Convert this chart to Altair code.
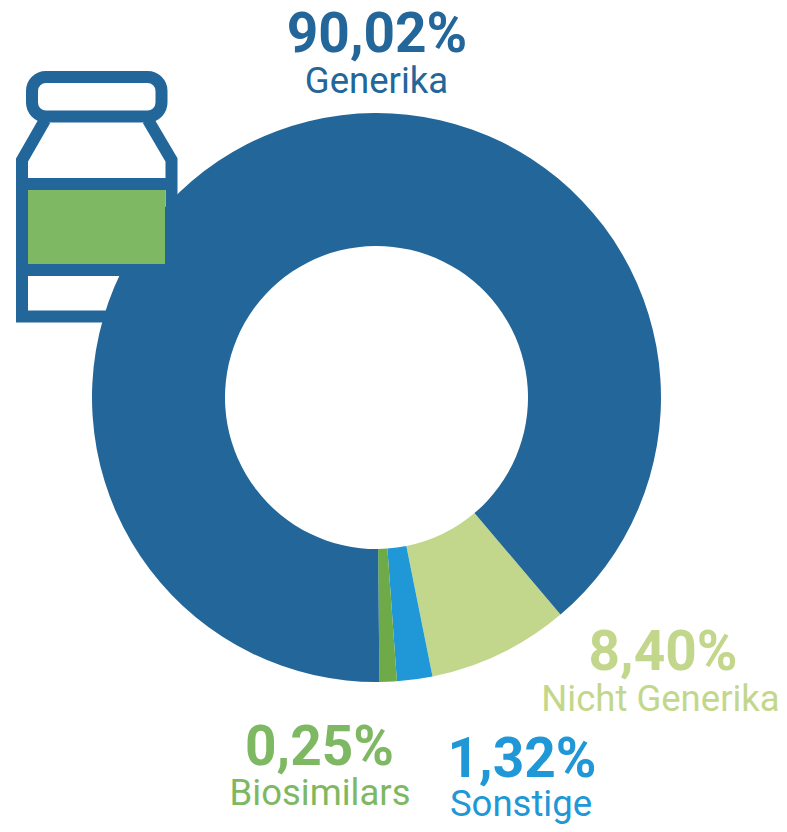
import math
import altair as alt
import pandas as pd

# Slice shares as drawn (percent of the ring), clockwise from the Generika / Nicht Generika edge
categories = ["Nicht Generika", "Sonstige", "Biosimilars", "Generika"]
drawn_shares = [8.04, 2.01, 0.98, 88.97]
slice_colors = ["#C3D78C", "#2097D6", "#6FAA48", "#236699"]

# Printed labels
percent_labels = ["8,40%", "1,32%", "0,25%", "90,02%"]
text_colors = ["#C3D78C", "#2097D6", "#7EB862", "#236699"]

M = 8  # page margin
CX, CY = 376.5 - M, 397.5 - M
START = math.radians(139.7)

df = pd.DataFrame({"name": categories, "share": drawn_shares, "idx": range(4)})

donut = alt.Chart(df).mark_arc(radius=284.5, radius2=151.5).encode(
    x=alt.value(CX),
    y=alt.value(CY),
    theta=alt.Theta("share:Q", stack=True,
                    scale=alt.Scale(domain=[0, 100], range=[START, START + 2 * math.pi])),
    order=alt.Order("idx:Q"),
    color=alt.Color("name:N", scale=alt.Scale(domain=categories, range=slice_colors), legend=None),
)

ONE = pd.DataFrame({"a": [0]})
BLUE = "#236699"


def rule(x1, y1, x2, y2):
    return alt.Chart(ONE).mark_rule(color=BLUE, strokeWidth=12).encode(
        x=alt.value(x1 - M), x2=alt.value(x2 - M), y=alt.value(y1 - M), y2=alt.value(y2 - M))


def outline(xs, ys):
    d = pd.DataFrame({"x": [v - M for v in xs], "y": [v - M for v in ys], "o": range(len(xs))})
    return alt.Chart(d).mark_line(color=BLUE, strokeWidth=12, strokeJoin="miter", strokeCap="butt").encode(
        x=alt.X("x:Q", scale=None, axis=None),
        y=alt.Y("y:Q", scale=None, axis=None),
        order="o:Q")


green_label = alt.Chart(ONE).mark_rect(color="#7EB862").encode(
    x=alt.value(28 - M), x2=alt.value(165 - M), y=alt.value(190 - M), y2=alt.value(264 - M))
cap = alt.Chart(ONE).mark_rect(fill=None, stroke=BLUE, strokeWidth=12, cornerRadius=14).encode(
    x=alt.value(32 - M), x2=alt.value(161.5 - M), y=alt.value(77 - M), y2=alt.value(116.5 - M))

icon = [
    outline([45, 22, 22, 125], [120, 160, 316.5, 316.5]),
    outline([148, 171.5, 171.5], [120, 160, 270]),
    rule(22, 184, 171.5, 184),
    rule(22, 270, 171.5, 270),
    green_label,
    cap,
]


def label(text, x, baseline, size, color, weight):
    return alt.Chart(ONE).mark_text(
        text=text, x=x - M, y=baseline - M, align="center", baseline="alphabetic",
        font="Roboto", fontSize=size, fontWeight=weight, color=color)


big = [(663, 670), (522, 777), (319.5, 765), (377, 52)]
small = [(660.5, 711), (521, 816), (320, 805), (376.5, 93)]
texts = []
for i in range(4):
    texts.append(label(percent_labels[i], big[i][0], big[i][1], 55, text_colors[i], 700))
    texts.append(label(categories[i], small[i][0], small[i][1], 36.5, text_colors[i], 400))

chart = alt.layer(donut, *icon, *texts).properties(
    width=771, height=816, padding=0, autosize=alt.AutoSizeParams(type="none"),
    background="white",
).configure_view(stroke=None)

chart.save("out.html", embed_options={"renderer": "svg", "actions": False})
